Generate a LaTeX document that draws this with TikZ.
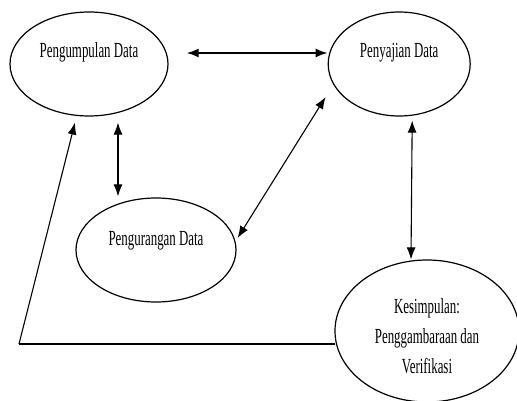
\documentclass[tikz,border=0pt]{standalone}
\usepackage{fontspec}
\setmainfont[FakeStretch=0.6]{Liberation Serif}
\usetikzlibrary{positioning}
\usetikzlibrary{shapes}
\usetikzlibrary{arrows.meta}

\begin{document}
\begin{tikzpicture}[
    x=1pt, y=-1pt,
    stage/.style={draw, ellipse, line width=1.2pt, inner sep=0},
    stext/.style={font=\fontsize{21.5}{30}\selectfont, inner sep=0, anchor=base, align=center},
    dedge/.style={<->, >={Latex[length=12pt,width=9pt]}, line width=1.1pt, draw=black},
    tedge/.style={dedge, line width=1.8pt}
]
\useasboundingbox (0,0) rectangle (517,401);

% Pengumpulan Data
\node[stage, minimum width=158pt, minimum height=104pt] (pd) at (89,64) {};
\node[stext] (pdlbl) at ([yshift=6pt]pd.center) {Pengumpulan Data};

% Penyajian Data
\node[stage, minimum width=142pt, minimum height=104pt, right=159pt of pd] (ps) {};
\node[stext] (pslbl) at ([yshift=6pt]ps.center) {Penyajian Data};

% Pengurangan Data
\node[stage, minimum width=160pt, minimum height=104pt] (pr) at (156,250) {};
\node[stext] (prlbl) at ([yshift=5pt]pr.center) {Pengurangan Data};

% Kesimpulan
\node[stage, minimum width=184pt, minimum height=142pt] (ks) at (427,331) {};
\node[stext, anchor=center] (kslbl) at ([yshift=-5pt]ks.center) {Kesimpulan:\\Penggambaraan dan\\Verifikasi};

% connectors
\draw[tedge] ([xshift=18pt,yshift=11pt]pd.east) -- ([yshift=11pt]ps.west);
\draw[dedge] ([xshift=29pt,yshift=-6pt]pd.south) -- ([xshift=-38pt,yshift=1pt]pr.north);
\draw[dedge] ([xshift=1pt,yshift=12pt]pr.east) -- ([xshift=-2pt,yshift=-33pt]ps.west);
\draw[dedge] ([xshift=13pt,yshift=-4pt]ps.south) -- ([xshift=-16pt]ks.north);

% back to Pengumpulan Data
\coordinate (corner) at (19,344);
\draw[line width=1.8pt] ([xshift=1pt,yshift=-13pt]ks.west) -- (corner);
\draw[dedge, ->] (corner) -- ([xshift=-14pt,yshift=-6pt]pd.south);

\end{tikzpicture}
\end{document}
